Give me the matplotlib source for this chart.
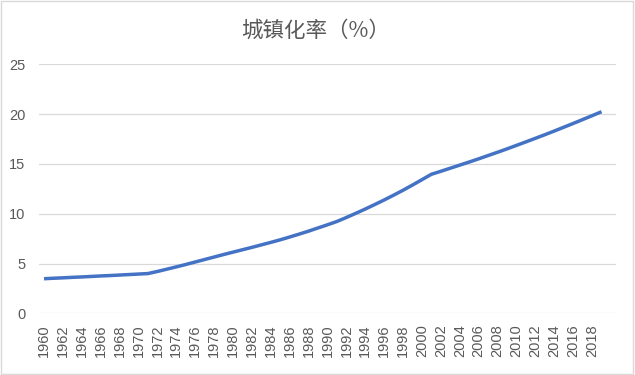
import matplotlib
matplotlib.use("Agg")
import matplotlib.pyplot as plt
from matplotlib.patches import Rectangle

plt.rcParams['font.family'] = ['Noto Sans CJK SC', 'DejaVu Sans']

# urbanization rate (%), 1960-2019
years = list(range(1960, 2020))
rate = [
    3.47, 3.52, 3.56, 3.61, 3.65, 3.70, 3.75, 3.79, 3.84, 3.89,   # 1960s
    3.94, 3.99, 4.20, 4.43, 4.66, 4.90, 5.15, 5.40, 5.65, 5.90,   # 1970s
    6.14, 6.38, 6.62, 6.87, 7.12, 7.38, 7.66, 7.95, 8.25, 8.57,   # 1980s
    8.89, 9.22, 9.62, 10.04, 10.47, 10.92, 11.38, 11.86, 12.36, 12.88,  # 1990s
    13.42, 13.96, 14.26, 14.57, 14.88, 15.19, 15.51, 15.84, 16.17, 16.51,  # 2000s
    16.86, 17.21, 17.57, 17.93, 18.30, 18.68, 19.06, 19.45, 19.84, 20.24,  # 2010s
]
tick_years = list(range(1960, 2019, 2))
y_ticks = [0, 5, 10, 15, 20, 25]
title = "城镇化率（%）"

grey_text = '#595959'
grid_col = '#D9D9D9'
line_col = '#4472C4'
num_font = ['Liberation Sans', 'DejaVu Sans']

fig = plt.figure(figsize=(6.35, 3.75), dpi=100)
ax = fig.add_axes([39.3 / 635, 61.7 / 375, 576.4 / 635, 249 / 375])

ax.plot(years, rate, color=line_col, linewidth=2.5, solid_capstyle='butt',
        solid_joinstyle='round')

ax.set_xlim(1959.5, 2020.5)
ax.set_ylim(0, 25)
ax.set_yticks(y_ticks)
ax.set_xticks(tick_years)
ax.set_xticklabels([str(y) for y in tick_years], rotation=90,
                   fontsize=10.5, color=grey_text, family=num_font)
ax.set_yticklabels([str(v) for v in y_ticks], fontsize=10.5, color=grey_text,
                   family=num_font)
ax.tick_params(axis='both', length=0)
ax.tick_params(axis='y', pad=10)
ax.tick_params(axis='x', pad=8)

ax.grid(axis='y', color=grid_col, linewidth=0.9)
ax.set_axisbelow(True)
for s in ax.spines.values():
    s.set_visible(False)

fig.text(316 / 635, 1 - 31 / 375, title, ha='center', va='center',
         fontsize=15.5, color=grey_text)

# outer chart border
fig.patches.append(Rectangle((0.002, 0.003), 0.995, 0.994, transform=fig.transFigure,
                             fill=False, edgecolor=grid_col, linewidth=1))

fig.savefig("out.png", dpi=100)
